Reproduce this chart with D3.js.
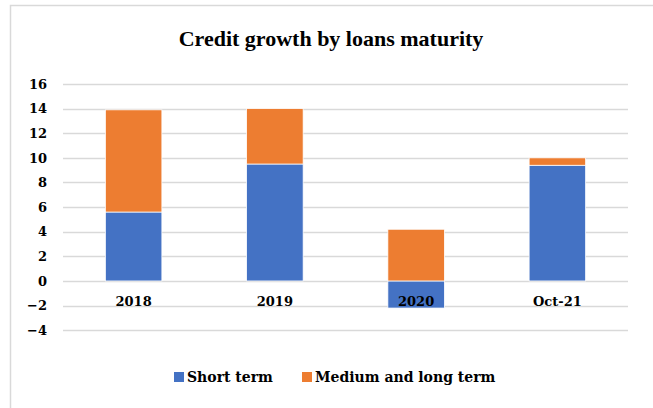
<!DOCTYPE html>
<html lang="en">
<head>
    <meta charset="UTF-8">
    <title>Credit growth by loans maturity</title>
    <script src="https://cdn.jsdelivr.net/npm/d3@7"></script>
    <style>
        body{
            margin: 0;
            background: #fff;
        }
        text{
            font-weight: bold;
            fill: #000;
        }
    </style>
</head>
<body>
</body>
<script type="text/javascript">

    // data
    let categories = ["2018", "2019", "2020", "Oct-21"];
    let shortTerm = [5.6, 9.5, -2.2, 9.4];
    let mediumLong = [8.3, 4.5, 4.2, 0.6];
    let seriesNames = ["Short term", "Medium and long term"];
    let yTicks = [-4, -2, 0, 2, 4, 6, 8, 10, 12, 14, 16];
    let colors = ["#4472c4", "#ed7d31"];

    let width = 653;
    let height = 408;
    let numFont = "'DejaVu Serif', serif";
    let titleFont = "'Liberation Serif', serif";

    let svg = d3.select("body")
        .append("svg")
        .attr("width", width)
        .attr("height", height);

    // chart frame
    svg.append("rect")
        .attr("x", 10.5)
        .attr("y", 5.5)
        .attr("width", 660)
        .attr("height", 420)
        .attr("fill", "none")
        .attr("stroke", "#d9d9d9")
        .attr("stroke-width", 1.5);

    let plotLeft = 63, plotRight = 628;

    let x = d3.scaleBand()
        .domain(categories)
        .range([plotLeft, plotRight])
        .paddingInner(0.6)
        .paddingOuter(0.3);

    let y = d3.scaleLinear()
        .domain([-4, 16])
        .range([330.2, 84]);

    // gridlines
    svg.append("g")
        .selectAll("line")
        .data(yTicks)
        .join("line")
        .attr("x1", plotLeft)
        .attr("x2", plotRight)
        .attr("y1", d => Math.round(y(d)) + 0.5)
        .attr("y2", d => Math.round(y(d)) + 0.5)
        .attr("stroke", "#d9d9d9")
        .attr("stroke-width", 1.5);

    // y axis labels
    let yAxis = d3.axisLeft(y)
        .tickValues(yTicks)
        .tickSize(0)
        .tickPadding(16)
        .tickFormat(d3.format("d"));
    let yAxisGroup = svg.append("g")
        .attr("transform", `translate(${plotLeft},0)`);
    yAxis(yAxisGroup);
    yAxisGroup
        .attr("font-family", numFont)
        .attr("font-size", 13);
    yAxisGroup.select(".domain").remove();
    yAxisGroup.selectAll("text").attr("fill", "#000");

    // stacked data: positives up from 0, negatives down from 0
    let rows = categories.map((c, i) => ({ cat: c, values: [shortTerm[i], mediumLong[i]] }));
    let segments = [];
    rows.forEach(r => {
        let pos = 0, neg = 0;
        r.values.forEach((v, s) => {
            let y0, y1;
            if (v >= 0) { y0 = pos; y1 = pos + v; pos = y1; }
            else { y0 = neg; y1 = neg + v; neg = y1; }
            segments.push({ cat: r.cat, series: s, y0: y0, y1: y1 });
        });
    });

    svg.append("g")
        .selectAll("rect")
        .data(segments)
        .join("rect")
        .attr("x", d => x(d.cat))
        .attr("width", x.bandwidth())
        .attr("y", d => y(Math.max(d.y0, d.y1)))
        .attr("height", d => Math.abs(y(d.y0) - y(d.y1)))
        .attr("fill", d => colors[d.series])
        .attr("stroke", "#fff")
        .attr("stroke-width", 0.75);

    // category labels
    svg.append("g")
        .selectAll("text")
        .data(categories)
        .join("text")
        .attr("x", d => x(d) + x.bandwidth() / 2)
        .attr("y", 306)
        .attr("text-anchor", "middle")
        .style("font-family", numFont)
        .style("font-size", "13px")
        .text(d => d);

    // title
    svg.append("text")
        .attr("x", 331)
        .attr("y", 46)
        .attr("text-anchor", "middle")
        .style("font-family", titleFont)
        .style("font-size", "22px")
        .text("Credit growth by loans maturity");

    // legend
    let legendX = [174, 302];
    let legend = svg.append("g")
        .selectAll("g")
        .data(seriesNames)
        .join("g")
        .attr("transform", (d, i) => `translate(${legendX[i]},372)`);
    legend.append("rect")
        .attr("width", 10)
        .attr("height", 10)
        .attr("fill", (d, i) => colors[i]);
    legend.append("text")
        .attr("x", 13)
        .attr("y", 10)
        .style("font-family", numFont)
        .style("font-size", "14px")
        .text(d => d);
</script>
</html>
